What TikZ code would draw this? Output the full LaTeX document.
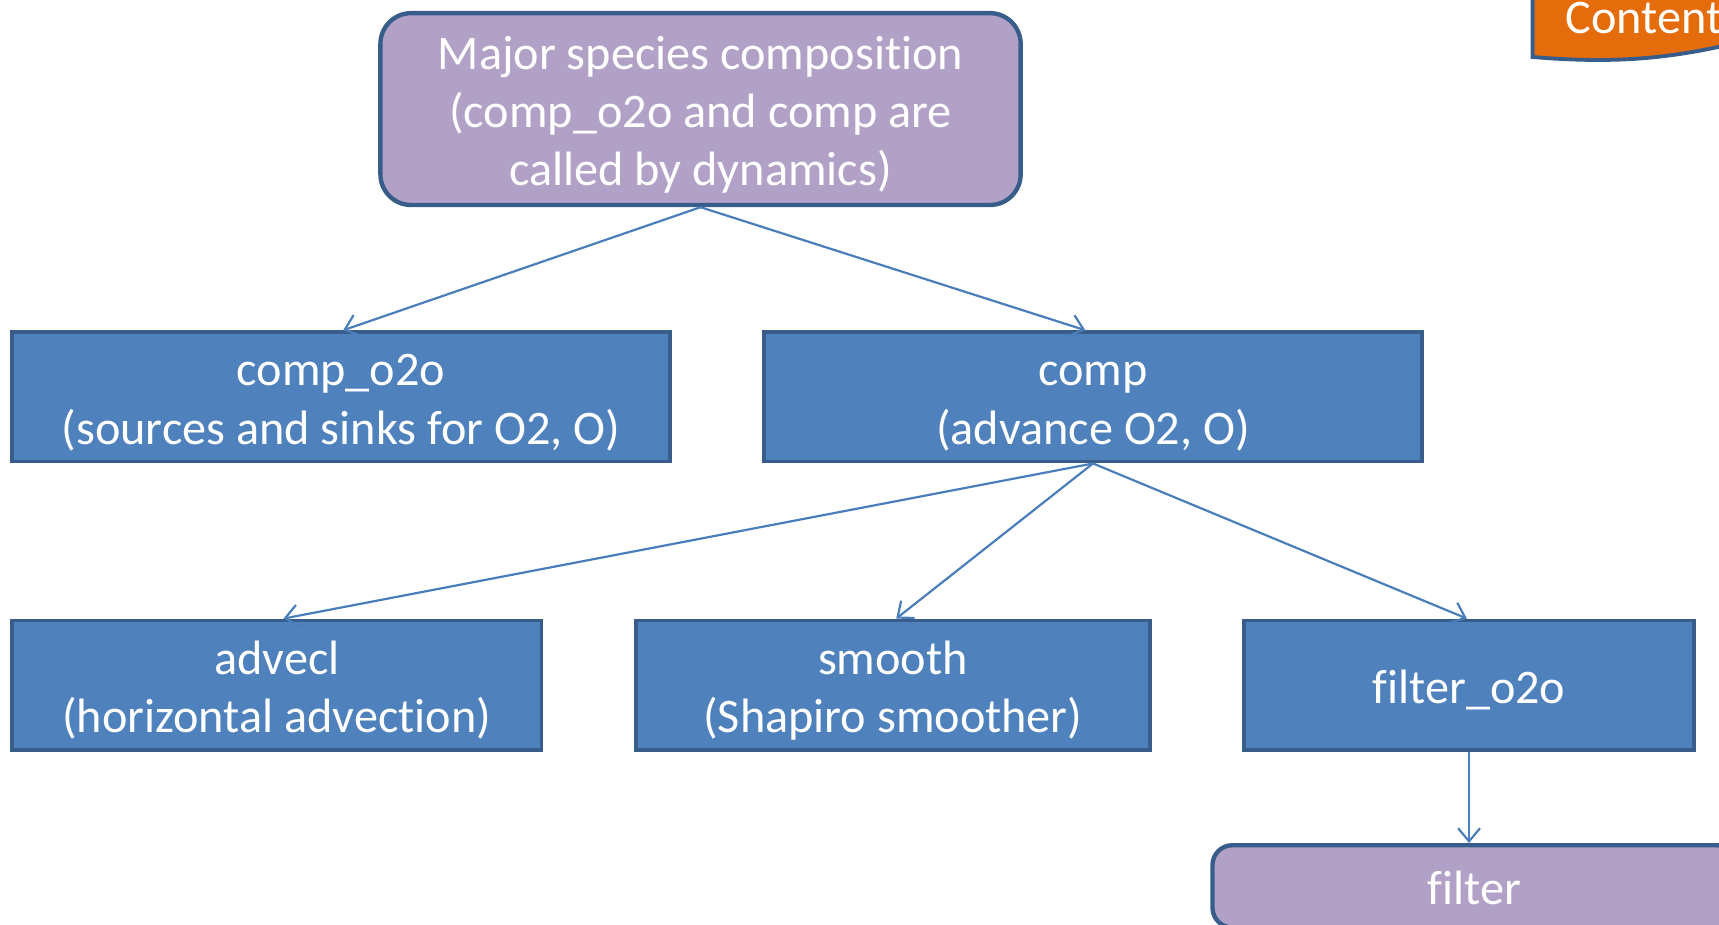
\documentclass[tikz,border=0pt]{standalone}
\usepackage{fontspec}
\setmainfont[RawFeature=-liga]{Carlito}
\usetikzlibrary{arrows.meta}
\definecolor{lilac}{HTML}{B2A1C7}
\definecolor{boxblue}{HTML}{4F81BD}
\definecolor{edgeblue}{HTML}{385D8A}
\definecolor{arrblue}{HTML}{4A7EBB}
\definecolor{tabor}{HTML}{E46C0A}
\newcommand\mystrut{\rule[-10pt]{0pt}{53pt}}
\tikzset{
  base/.style={draw=edgeblue, text=white, align=center, inner sep=0pt,
    font=\fontsize{44}{53}\selectfont},
  bluebox/.style={base, fill=boxblue, line width=3.5pt, minimum height=118pt},
  lilacbox/.style={base, fill=lilac, line width=4pt, rounded corners=28pt},
  arr/.style={draw=arrblue, line width=2pt,
    -{Straight Barb[length=12pt,width=20pt,line width=2pt]}},
}
\begin{document}
\begin{tikzpicture}[x=1pt,y=-1pt]
\useasboundingbox (0,0) rectangle (1568,843);
\clip (0,0) rectangle (1568,843);
% Content tab
\draw[fill=tabor, draw=edgeblue, line width=3.5pt]
  (1398,-20) -- (1398,52) .. controls (1470,58) and (1520,54) .. (1580,40) -- (1580,-20) -- cycle;
\node[text=white, font=\fontsize{44}{53}\selectfont, anchor=west, inner sep=0pt] (content) at (1428,16) {Content};
% nodes
\node[lilacbox, minimum width=584pt, minimum height=175pt] (top) at (639,99.5)
  {\mystrut Major species composition\\\mystrut(comp\_o2o and comp are\\\mystrut called by dynamics)};
\node[bluebox, minimum width=600pt] (compo) at (311,362)
  {\mystrut comp\_o2o\\\mystrut(sources and sinks for O2, O)};
\node[bluebox, minimum width=600pt] (comp) at (997,362)
  {\mystrut comp\\\mystrut(advance O2, O)};
\node[bluebox, minimum width=483pt] (advecl) at (252.5,625)
  {\mystrut advecl\\\mystrut(horizontal advection)};
\node[bluebox, minimum width=469pt] (smooth) at (814.5,625)
  {\mystrut smooth\\\mystrut(Shapiro smoother)};
\node[bluebox, minimum width=410pt] (filto) at (1340,625)
  {\mystrut filter\_o2o};
\node[lilacbox, minimum width=478pt, minimum height=75pt, rounded corners=18pt] (filter) at (1345,808.5)
  {\mystrut filter};
% connectors
\draw[arr] (top.south) -- ([xshift=2pt]compo.north);
\draw[arr] (top.south) -- ([xshift=-7pt]comp.north);
\draw[arr] (comp.south) -- ([xshift=6pt]advecl.north);
\draw[arr] (comp.south) -- ([xshift=3pt]smooth.north);
\draw[arr] (comp.south) -- ([xshift=-2pt]filto.north);
\draw[arr] (filto.south) -- (filto.south |- filter.north);
\end{tikzpicture}
\end{document}
